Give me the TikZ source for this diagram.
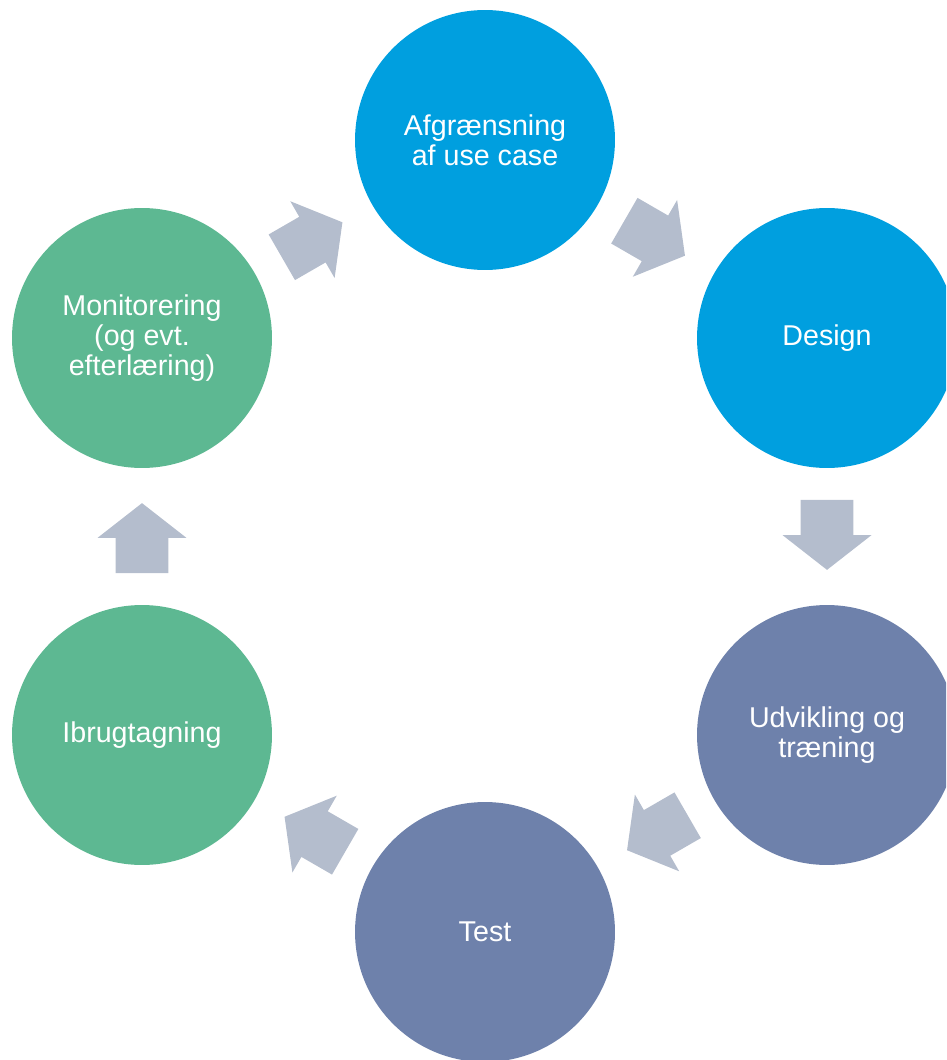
\documentclass[tikz,border=0pt]{standalone}
\usepackage{fontspec}
\setmainfont{Liberation Sans}
\usetikzlibrary{shapes.arrows, calc}
\definecolor{stageblue}{RGB}{0, 159, 223}
\definecolor{stageslate}{RGB}{110, 129, 171}
\definecolor{stagegreen}{RGB}{93, 184, 146}
\definecolor{cyclegrey}{RGB}{180, 189, 205}
\tikzset{
  stage/.style      = {circle, minimum size=5.2cm, inner sep=0pt, align=center, text=white, font=\fontsize{16.3}{17}\selectfont},
  stageb/.style     = {stage, fill=stageblue},
  stages/.style     = {stage, fill=stageslate},
  stageg/.style     = {stage, fill=stagegreen},
  cyclearrow/.style = {single arrow, fill=cyclegrey, inner xsep=0pt, inner ysep=0.52cm, minimum height=1.4cm, minimum width=1.76cm, single arrow head extend=0.36cm, single arrow tip angle=104, single arrow head indent=0pt},
}
\begin{document}
\begin{tikzpicture}[x=0.02cm, y=-0.02cm]
  \clip (0,0) rectangle (946,1060);

  % the six stages
  \node[stageb] (usecase) at (485,140) {Afgrænsning\\af use case};
  \node[stageb] (design)  at (827,338) {Design};
  \node[stages] (train)   at (827,735) {Udvikling og\\træning};
  \node[stages] (test)    at (485,932) {Test};
  \node[stageg] (deploy)  at (142,735) {Ibrugtagning};
  \node[stageg] (monitor) at (142,338) {Monitorering\\(og evt.\\efterlæring)};

  % block arrows between stages
  \node[cyclearrow, rotate=-30]  (usecase-design)  at ($(usecase)!0.47!(design)$) {};
  \node[cyclearrow, rotate=-90]  (design-train)    at ($(design)!0.47!(train)$) {};
  \node[cyclearrow, rotate=-150] (train-test)      at ($(train)!0.47!(test)$) {};
  \node[cyclearrow, rotate=150]  (test-deploy)     at ($(test)!0.47!(deploy)$) {};
  \node[cyclearrow, rotate=90]   (deploy-monitor)  at ($(deploy)!0.47!(monitor)$) {};
  \node[cyclearrow, rotate=30]   (monitor-usecase) at ($(monitor)!0.47!(usecase)$) {};
\end{tikzpicture}
\end{document}
